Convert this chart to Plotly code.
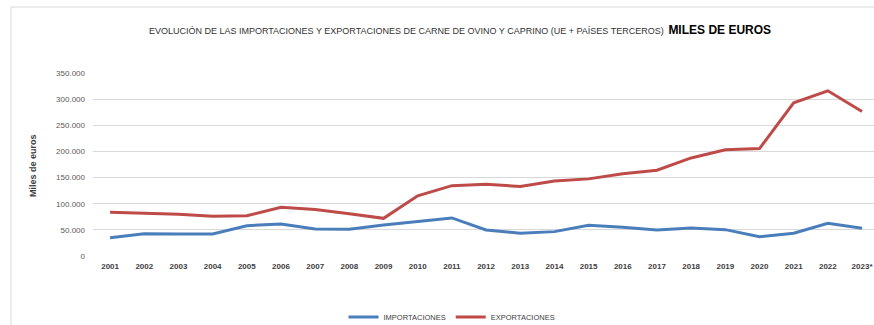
import plotly.graph_objects as go

# Años (2023 provisional)
years = ["2001", "2002", "2003", "2004", "2005", "2006", "2007", "2008", "2009", "2010",
         "2011", "2012", "2013", "2014", "2015", "2016", "2017", "2018", "2019", "2020",
         "2021", "2022", "2023*"]

# Miles de euros
importaciones = [35000, 42500, 42000, 42000, 58000, 61300, 51700, 51000, 59400, 65700,
                 72800, 49800, 43500, 46600, 58800, 55000, 49800, 53600, 50400, 37000,
                 43500, 62600, 53000]
exportaciones = [83500, 82000, 80000, 76000, 77000, 93000, 89000, 81000, 72000, 115000,
                 134500, 137000, 133000, 143500, 147500, 157500, 164000, 187500, 203000, 205500,
                 293000, 316000, 276500]

y_ticks = [0, 50000, 100000, 150000, 200000, 250000, 300000, 350000]

W, H = 874, 325
ML, MR, MT, MB = 93, 0, 73, 69
PW, PH = W - ML - MR, H - MT - MB

def px_x(p):
    return (p - ML) / PW

def px_y(p):
    return (H - MB - p) / PH

FONT = "Liberation Sans Narrow, Arial Narrow, sans-serif"

fig = go.Figure()
fig.add_trace(go.Scatter(x=years, y=importaciones, name="IMPORTACIONES", mode="lines",
                         line=dict(color="#4a7ebb", width=3)))
fig.add_trace(go.Scatter(x=years, y=exportaciones, name="EXPORTACIONES", mode="lines",
                         line=dict(color="#be4b48", width=3)))

fig.update_layout(
    width=W, height=H,
    margin=dict(l=ML, r=MR, t=MT, b=MB, autoexpand=False),
    paper_bgcolor="white", plot_bgcolor="white",
    separators=",.",
    font=dict(family=FONT, color="#595959"),
    title=dict(
        text="<span style='font-size:9px;color:#333333'>EVOLUCIÓN DE LAS IMPORTACIONES Y EXPORTACIONES "
             "DE CARNE DE OVINO Y CAPRINO (UE + PAÍSES TERCEROS)</span> "
             "<span style='font-size:12px;color:#000000'><b>MILES DE EUROS</b></span>",
        x=460 / W, xanchor="center", y=1 - 28 / H, yanchor="middle",
        font=dict(family=FONT),
    ),
    xaxis=dict(
        type="category", range=[-0.5, 22.35],
        showgrid=False, zeroline=False, showline=False, ticks="",
        tickfont=dict(size=8, color="#404040", weight="bold"),
        ticklabelstandoff=4,
    ),
    yaxis=dict(
        range=[0, 350000], tickvals=y_ticks, tickformat=",d",
        showgrid=True, gridcolor="#d9d9d9", gridwidth=1,
        zeroline=False, showline=False, ticks="",
        tickfont=dict(size=8, color="#595959"), ticklabelstandoff=7,
    ),
    showlegend=True,
    legend=dict(
        orientation="h", xref="container", yref="container",
        x=452 / W, xanchor="center", y=1 - 317 / H, yanchor="middle",
        font=dict(size=7.5, color="#404040"), itemwidth=30, tracegroupgap=0,
    ),
    annotations=[
        dict(text="<b>Miles de euros</b>", textangle=-90, xref="paper", yref="paper",
             x=px_x(33), y=px_y(166), xanchor="center", yanchor="middle", showarrow=False,
             font=dict(size=9, color="#404040", family=FONT)),
    ],
    shapes=[
        dict(type="line", xref="paper", yref="paper", x0=px_x(11), x1=px_x(11),
             y0=px_y(7), y1=px_y(H + 2), line=dict(color="#d9d9d9", width=1)),
        dict(type="line", xref="paper", yref="paper", x0=px_x(11), x1=1.0,
             y0=px_y(7), y1=px_y(7), line=dict(color="#d9d9d9", width=1)),
    ],
)

fig.write_html("out.html")
